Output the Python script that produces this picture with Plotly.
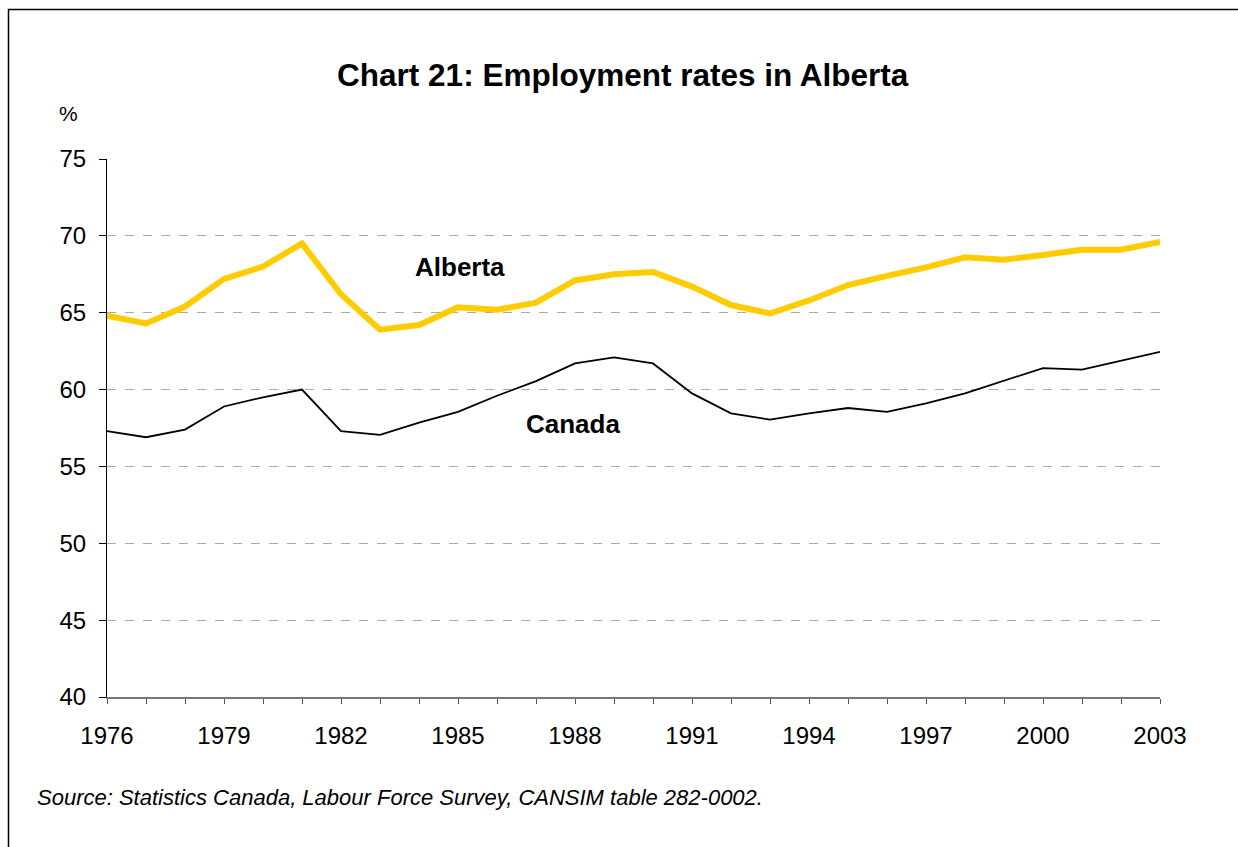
import plotly.graph_objects as go

years = list(range(1976, 2004))
alberta = [64.8, 64.3, 65.4, 67.2, 68.0, 69.5, 66.2, 63.9, 64.2, 65.35,
           65.2, 65.65, 67.1, 67.5, 67.65, 66.7, 65.5, 64.95, 65.8, 66.8,
           67.4, 67.95, 68.6, 68.45, 68.75, 69.1, 69.1, 69.6]
canada = [57.3, 56.9, 57.4, 58.9, 59.5, 60.0, 57.3, 57.05, 57.85, 58.55,
          59.6, 60.55, 61.7, 62.1, 61.7, 59.75, 58.45, 58.05, 58.45, 58.8,
          58.55, 59.1, 59.75, 60.6, 61.4, 61.3, 61.85, 62.45]
label_years = list(range(1976, 2004, 3))
y_ticks = [40, 45, 50, 55, 60, 65, 70, 75]

FONT = "Liberation Sans, Arial, sans-serif"

fig = go.Figure()
fig.add_trace(go.Scatter(x=years, y=alberta, mode="lines", name="Alberta",
                         line=dict(color="#FFCC00", width=6), cliponaxis=False))
fig.add_trace(go.Scatter(x=years, y=canada, mode="lines", name="Canada",
                         line=dict(color="#000000", width=1.8), cliponaxis=False))

W, H = 1238, 847
L, R, T, B = 107, 78, 159, 150
pw, ph = W - L - R, H - T - B

def px_x(p):
    return (p - L) / pw

def px_y(p):
    return 1 - (p - T) / ph

fig.update_layout(
    width=W, height=H,
    margin=dict(l=L, r=R, t=T, b=B),
    paper_bgcolor="white", plot_bgcolor="white",
    showlegend=False,
    font=dict(family=FONT, color="black", size=24),
    title=dict(text="<b>Chart 21: Employment rates in Alberta</b>",
               x=0.503, xanchor="center", y=1 - 75 / H, yanchor="middle",
               font=dict(size=31.5, family=FONT)),
    xaxis=dict(range=[1976, 2003], tickvals=label_years,
               ticks="outside", ticklen=5, tickcolor="#555555",
               showline=True, linecolor="#777777", linewidth=1.5,
               showgrid=False, zeroline=False,
               tickfont=dict(size=24), ticklabelstandoff=11,
               minor=dict(ticks="outside", dtick=1, ticklen=5,
                          tickcolor="#555555", showgrid=False)),
    yaxis=dict(range=[40, 75], tickvals=y_ticks,
               ticks="outside", ticklen=7, tickcolor="#000000",
               showline=True, linecolor="#000000", linewidth=1,
               showgrid=True, gridcolor="#AAAAAA", griddash="dash",
               gridwidth=1, zeroline=False,
               tickfont=dict(size=24), ticklabelstandoff=8),
)

fig.add_annotation(x=1985.05, y=67.97, text="<b>Alberta</b>", showarrow=False,
                   font=dict(size=26, family=FONT))
fig.add_annotation(x=1987.95, y=57.76, text="<b>Canada</b>", showarrow=False,
                   font=dict(size=26, family=FONT))
fig.add_annotation(xref="paper", yref="paper", x=px_x(57), y=px_y(113),
                   xanchor="left", yanchor="middle", text="%", showarrow=False,
                   font=dict(size=21, family=FONT))
fig.add_annotation(xref="paper", yref="paper", x=px_x(35), y=px_y(797),
                   xanchor="left", yanchor="middle", showarrow=False,
                   text="<i>Source: Statistics Canada, Labour Force Survey, CANSIM table 282-0002.</i>",
                   font=dict(size=22, family=FONT))

# frame around the chart (top and left edges visible)
fig.add_shape(type="path", xref="paper", yref="paper",
              path=f"M {px_x(1300)} {px_y(9.5)} L {px_x(8.5)} {px_y(9.5)} L {px_x(8.5)} {px_y(900)}",
              line=dict(color="black", width=1.5))

fig.write_html("out.html")
